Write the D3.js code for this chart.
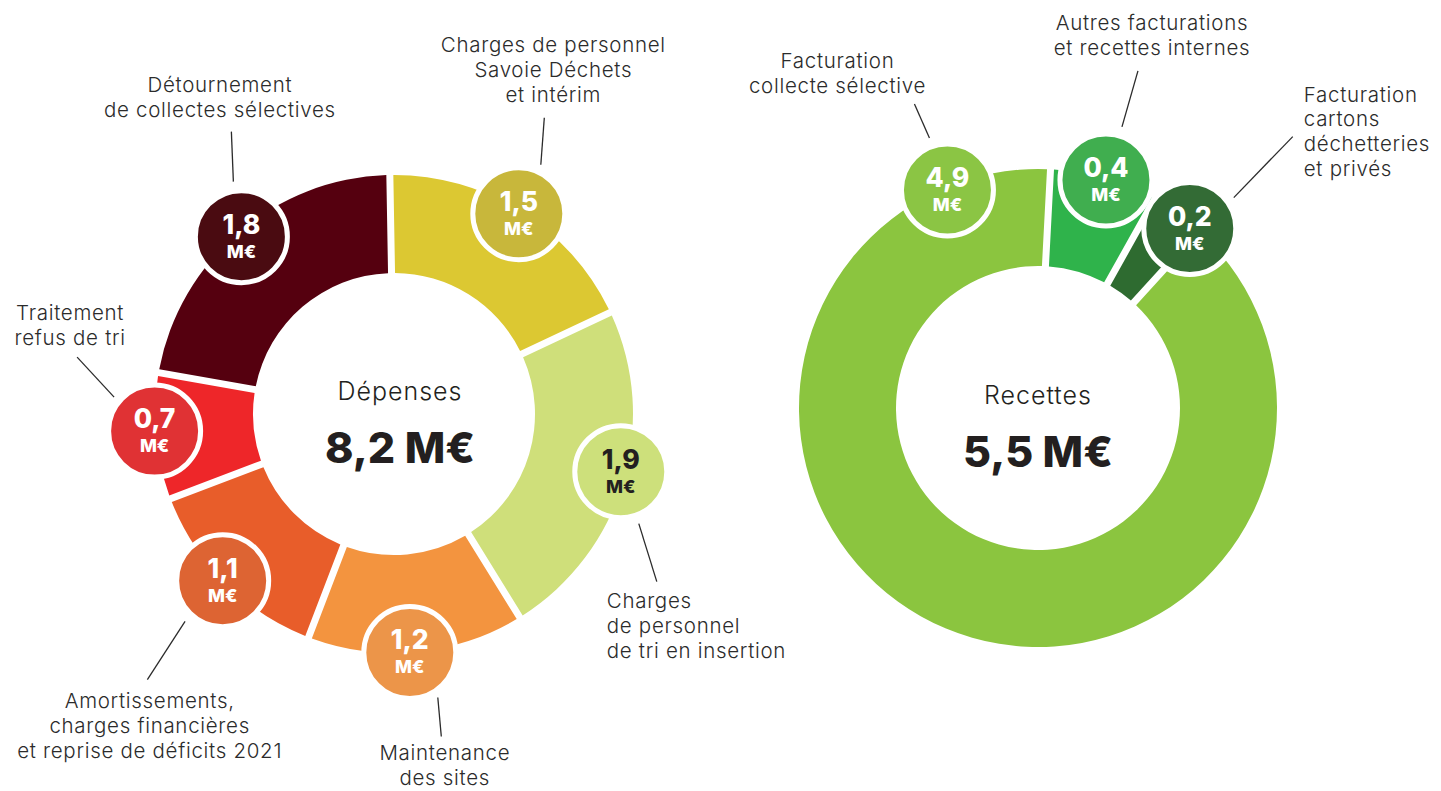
<!DOCTYPE html>
<html>
<head>
<meta charset="utf-8">
<script src="https://cdn.jsdelivr.net/npm/d3@7"></script>
<style>
  html, body { margin: 0; background: #ffffff; }
  svg { display: block; }
  .lbl { font-family: Inter, "Open Sans", sans-serif; font-size: 20.5px; font-weight: 350; fill: #2b2b2b; letter-spacing: 0.7px; }
  .badge-num { font-family: Inter, sans-serif; font-weight: 800; font-size: 26.5px; }
  .badge-unit { font-family: Inter, sans-serif; font-weight: 800; font-size: 18px; }
  .title { font-family: Inter, sans-serif; font-size: 25px; font-weight: 350; fill: #231f20; letter-spacing: 1px; }
  .total { font-family: Inter, sans-serif; font-weight: 800; font-size: 43px; fill: #231f20; }
</style>
</head>
<body>
<svg id="chart" width="1441" height="791"></svg>
<script>
// ---- Dépenses (M€), clockwise from the top ----
const depenseCategories = [
  ["Charges de personnel", "Savoie Déchets", "et intérim"],
  ["Charges", "de personnel", "de tri en insertion"],
  ["Maintenance", "des sites"],
  ["Amortissements,", "charges financières", "et reprise de déficits 2021"],
  ["Traitement", "refus de tri"],
  ["Détournement", "de collectes sélectives"]
];
const depenseValues = [1.5, 1.9, 1.2, 1.1, 0.7, 1.8];

// ---- Recettes (M€), clockwise from the top ----
const recetteCategories = [
  ["Autres facturations", "et recettes internes"],
  ["Facturation", "cartons", "déchetteries", "et privés"],
  ["Facturation", "collecte sélective"]
];
const recetteValues = [0.4, 0.2, 4.9];

// ---- colours ----
const depenseSegmentColors = ["#dcc832", "#cfdf7a", "#f3943f", "#e85d2a", "#ee2629", "#55000f"];
const depenseBadgeColors   = ["#c8b73b", "#cde07b", "#ec9549", "#dd6433", "#e03234", "#4a0b11"];
const depenseBadgeInk      = ["#ffffff", "#231f20", "#ffffff", "#ffffff", "#ffffff", "#ffffff"];
const recetteSegmentColors = ["#2fb34b", "#2e6b30", "#8bc53f"];
const recetteBadgeColors   = ["#40ae4f", "#336b35", "#8bc544"];
const recetteBadgeInk      = ["#ffffff", "#ffffff", "#ffffff"];

// ---- badge / callout layout (angle nudge in degrees, radius, leader line and label offsets from the badge) ----
const depenseLayout = [
  { nudge: 0.0,  r: 236, lead: [22, -49, 25.5, -96],   lx: 34.5,  ly: -162, anchor: "middle" },
  { nudge: -2.3, r: 234, lead: [18, 52, 36, 110],      lx: -14,   ly: 136,  anchor: "start" },
  { nudge: 1.6,  r: 239, lead: [28, 45, 31.5, 84],     lx: 35,    ly: 108,  anchor: "middle" },
  { nudge: 0.7,  r: 239, lead: [-37.6, 40.7, -75.3, 99], lx: -73, ly: 127,  anchor: "middle" },
  { nudge: 1.3,  r: 240, lead: [-40.5, -34, -77.5, -74], lx: -84.5, ly: -111, anchor: "middle" },
  { nudge: -0.2, r: 234, lead: [-8, -55, -10, -105],   lx: -21.5, ly: -145, anchor: "middle" }
];
const recetteLayout = [
  { nudge: 0.5,   r: 238, lead: [16, -53, 32, -109],  lx: 46,   ly: -150, anchor: "middle" },
  { nudge: 4.5,   r: 235, lead: [44, -31, 103, -92],  lx: 114,  ly: -127, anchor: "start", lh: 24.7 },
  { nudge: 134.8, r: 236, lead: [-18, -52, -33, -86], lx: -110, ly: -122, anchor: "middle" }
];

const svg = d3.select("#chart");
const fmt = v => d3.format(".1f")(v).replace(".", ",");
const rad = d => d * Math.PI / 180;

function donut(opts) {
  const { cx, cy, outer, inner, start, values, categories, segColors, badgeColors, badgeInk,
          layout, title, titleDx, titleY, totalY } = opts;

  const g = svg.append("g").attr("transform", `translate(${cx},${cy})`);

  const pie = d3.pie().sort(null).value(d => d)
    .startAngle(rad(start)).endAngle(rad(start + 360));
  const arcs = pie(values);

  const arc = d3.arc()
    .innerRadius(inner).outerRadius(outer)
    .padRadius(outer).padAngle(7 / outer);

  g.selectAll("path.seg").data(arcs).join("path")
    .attr("class", "seg")
    .attr("d", arc)
    .attr("fill", (d, i) => segColors[i]);

  // badge centres along each slice
  const badges = arcs.map((a, i) => {
    const L = layout[i];
    const ang = (a.startAngle + a.endAngle) / 2 + rad(L.nudge);
    return { x: L.r * Math.sin(ang), y: -L.r * Math.cos(ang), i, value: values[i] };
  });

  // leader lines
  g.selectAll("line.lead").data(badges).join("line")
    .attr("class", "lead")
    .attr("x1", b => b.x + layout[b.i].lead[0])
    .attr("y1", b => b.y + layout[b.i].lead[1])
    .attr("x2", b => b.x + layout[b.i].lead[2])
    .attr("y2", b => b.y + layout[b.i].lead[3])
    .attr("stroke", "#2b2b2b").attr("stroke-width", 1.3);

  // category labels
  badges.forEach(b => {
    const L = layout[b.i];
    const lh = L.lh || 25;
    const t = g.append("text").attr("class", "lbl")
      .attr("text-anchor", L.anchor);
    categories[b.i].forEach((line, k) => {
      t.append("tspan").attr("x", b.x + L.lx).attr("y", b.y + L.ly + k * lh).text(line);
    });
  });

  // value badges
  const bg = g.selectAll("g.badge").data(badges).join("g")
    .attr("class", "badge")
    .attr("transform", b => `translate(${b.x},${b.y})`);
  bg.append("circle").attr("r", 46)
    .attr("fill", b => badgeColors[b.i])
    .attr("stroke", "#ffffff").attr("stroke-width", 5);
  bg.append("text").attr("class", "badge-num")
    .attr("text-anchor", "middle").attr("y", -3)
    .attr("fill", b => badgeInk[b.i])
    .text(b => fmt(b.value));
  bg.append("text").attr("class", "badge-unit")
    .attr("text-anchor", "middle").attr("y", 21)
    .attr("fill", b => badgeInk[b.i])
    .text("M€");

  // centre title and total
  g.append("text").attr("class", "title").attr("text-anchor", "middle")
    .attr("x", titleDx).attr("y", titleY).text(title);
  g.append("text").attr("class", "total").attr("text-anchor", "middle")
    .attr("x", titleDx).attr("y", totalY).text(fmt(d3.sum(values)) + " M€");
}

donut({
  cx: 394, cy: 414, outer: 239, inner: 141, start: -1,
  values: depenseValues, categories: depenseCategories,
  segColors: depenseSegmentColors, badgeColors: depenseBadgeColors, badgeInk: depenseBadgeInk,
  layout: depenseLayout, title: "Dépenses", titleDx: 6, titleY: -14, totalY: 49
});

donut({
  cx: 1038, cy: 408, outer: 239, inner: 142, start: 3,
  values: recetteValues, categories: recetteCategories,
  segColors: recetteSegmentColors, badgeColors: recetteBadgeColors, badgeInk: recetteBadgeInk,
  layout: recetteLayout, title: "Recettes", titleDx: 0, titleY: -4, totalY: 59
});
</script>
</body>
</html>
